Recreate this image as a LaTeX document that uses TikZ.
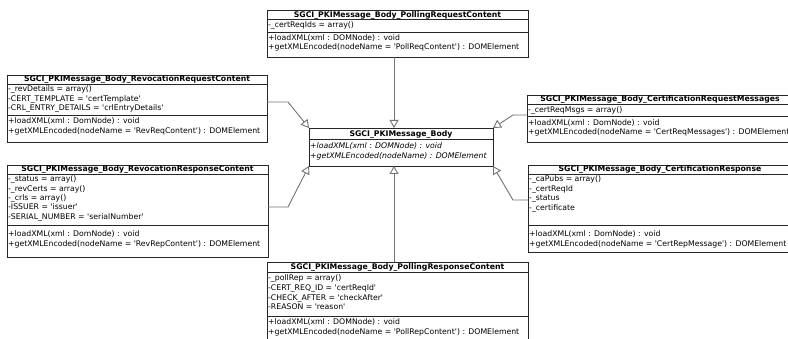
\documentclass[tikz,border=0pt]{standalone}
\usepackage{fontspec}
\setmainfont{DejaVu Sans}
\newfontfamily\umlf{DejaVu Sans}
\usetikzlibrary{arrows.meta}
\newcommand\umlfont{\umlf\fontsize{7.75}{9.6}\selectfont}
\newcommand\umlbold{\umlf\bfseries\fontsize{7.75}{9.6}\selectfont}
\newcommand\umlital{\umlf\itshape\fontsize{7.75}{9.6}\selectfont}
\begin{document}
\begin{tikzpicture}[x=1pt,y=-1pt,
  umlbox/.style={draw=black!85, line width=0.9pt, fill=white, inner sep=0pt, anchor=north west},
  sepline/.style={draw=black!85, line width=0.9pt},
  txt/.style={inner sep=0pt, anchor=base west, font=\umlfont},
  itxt/.style={inner sep=0pt, anchor=base west, font=\umlital},
  ttl/.style={inner sep=0pt, anchor=base, font=\umlbold},
  conn/.style={draw=black!55, line width=0.9pt, -{Triangle[open, length=8pt, width=9pt, fill=white]}}]
\clip (0,0) rectangle (788,339);
\fill[white] (0,0) rectangle (788,339);

% ---------- top box
\node[umlbox, minimum width=261pt, minimum height=47pt] (top) at (267,10) {};
\draw[sepline] (267,19) -- (528,19);
\draw[sepline] (267,32) -- (528,32);
\node[ttl] (topT) at (397.5,17.3) {SGCI\_PKIMessage\_Body\_PollingRequestContent};
\node[txt] (topA1) at (268,28) {-\_certReqIds = array()};
\node[txt] (topM1) at (268,40.5) {+loadXML(xml : DOMNode) : void};
\node[txt] (topM2) at (268,50) {+getXMLEncoded(nodeName = 'PollReqContent') : DOMElement};

% ---------- left box 1
\node[umlbox, minimum width=260pt, minimum height=67pt] (lone) at (7,75) {};
\draw[sepline] (7,84) -- (267,84);
\draw[sepline] (7,115) -- (267,115);
\node[ttl] (loneT) at (137,81.8) {SGCI\_PKIMessage\_Body\_RevocationRequestContent};
\node[txt] (loneA1) at (8,92) {-\_revDetails = array()};
\node[txt] (loneA2) at (8,101.7) {-CERT\_TEMPLATE = 'certTemplate'};
\node[txt] (loneA3) at (8,111) {-CRL\_ENTRY\_DETAILS = 'crlEntryDetails'};
\node[txt] (loneM1) at (8,123.5) {+loadXML(xml : DomNode) : void};
\node[txt] (loneM2) at (8,133.3) {+getXMLEncoded(nodeName = 'RevReqContent') : DOMElement};

% ---------- left box 2
\node[umlbox, minimum width=261pt, minimum height=92pt] (ltwo) at (7,165) {};
\draw[sepline] (7,174) -- (268,174);
\draw[sepline] (7,225) -- (268,225);
\node[ttl] (ltwoT) at (137.5,172) {SGCI\_PKIMessage\_Body\_RevocationResponseContent};
\node[txt] (ltwoA1) at (8,182) {-\_status = array()};
\node[txt] (ltwoA2) at (8,191.2) {-\_revCerts = array()};
\node[txt] (ltwoA3) at (8,200.5) {-\_crls = array()};
\node[txt] (ltwoA4) at (8,209.7) {-ISSUER = 'issuer'};
\node[txt] (ltwoA5) at (8,219.3) {-SERIAL\_NUMBER = 'serialNumber'};
\node[txt] (ltwoM1) at (8,236.8) {+loadXML(xml : DomNode) : void};
\node[txt] (ltwoM2) at (8,246.6) {+getXMLEncoded(nodeName = 'RevRepContent') : DOMElement};

% ---------- center box
\node[umlbox, minimum width=184pt, minimum height=38pt] (body) at (309,128) {};
\draw[sepline] (309,139) -- (493,139);
\node[ttl] (bodyT) at (401,136.7) {SGCI\_PKIMessage\_Body};
\node[itxt] (bodyM1) at (310,148.6) {+loadXML(xml : DOMNode) : void};
\node[itxt] (bodyM2) at (310,158.2) {+getXMLEncoded(nodeName) : DOMElement};

% ---------- right box 1
\node[umlbox, minimum width=273pt, minimum height=47pt] (rone) at (527,95) {};
\draw[sepline] (527,104) -- (800,104);
\draw[sepline] (527,116) -- (800,116);
\node[ttl] (roneT) at (660,102) {SGCI\_PKIMessage\_Body\_CertificationRequestMessages};
\node[txt] (roneA1) at (528,112.7) {-\_certReqMsgs = array()};
\node[txt] (roneM1) at (528,125.4) {+loadXML(xml : DomNode) : void};
\node[txt] (roneM2) at (528,134.4) {+getXMLEncoded(nodeName = 'CertReqMessages') : DOMElement};

% ---------- right box 2
\node[umlbox, minimum width=272pt, minimum height=87pt] (rtwo) at (528,165) {};
\draw[sepline] (528,174) -- (800,174);
\draw[sepline] (528,225) -- (800,225);
\node[ttl] (rtwoT) at (660,172) {SGCI\_PKIMessage\_Body\_CertificationResponse};
\node[txt] (rtwoA1) at (529,182) {-\_caPubs = array()};
\node[txt] (rtwoA2) at (529,191.3) {-\_certReqId};
\node[txt] (rtwoA3) at (529,200.8) {-\_status};
\node[txt] (rtwoA4) at (529,210.3) {-\_certificate};
\node[txt] (rtwoM1) at (529,236.8) {+loadXML(xml : DomNode) : void};
\node[txt] (rtwoM2) at (529,246.3) {+getXMLEncoded(nodeName = 'CertRepMessage') : DOMElement};

% ---------- bottom box
\node[umlbox, minimum width=261pt, minimum height=80pt] (bot) at (267,262) {};
\draw[sepline] (267,272) -- (528,272);
\draw[sepline] (267,316) -- (528,316);
\node[ttl] (botT) at (397.5,269.2) {SGCI\_PKIMessage\_Body\_PollingResponseContent};
\node[txt] (botA1) at (268,281) {-\_pollRep = array()};
\node[txt] (botA2) at (268,290.8) {-CERT\_REQ\_ID = 'certReqId'};
\node[txt] (botA3) at (268,300.4) {-CHECK\_AFTER = 'checkAfter'};
\node[txt] (botA4) at (268,309.6) {-REASON = 'reason'};
\node[txt] (botM1) at (268,324.4) {+loadXML(xml : DOMNode) : void};
\node[txt] (botM2) at (268,334.2) {+getXMLEncoded(nodeName = 'PollRepContent') : DOMElement};

% ---------- connector points
\coordinate (topOut) at (394,57);
\coordinate (bodyTopIn) at (394,128);
\coordinate (botOut) at (394,262);
\coordinate (bodyBotIn) at (394,166);
\coordinate (loneOut) at (267,102);
\coordinate (loneBend) at (288,102);
\coordinate (bodyNW) at (309,128);
\coordinate (ltwoOut) at (268,207);
\coordinate (ltwoBend) at (288,207);
\coordinate (bodySW) at (309,166);
\coordinate (roneOut) at (527,115);
\coordinate (roneBend) at (513,115);
\coordinate (bodyNE) at (493,128);
\coordinate (rtwoOut) at (528,200);
\coordinate (rtwoBend) at (513,200);
\coordinate (bodySE) at (493,166);

\draw[conn] (topOut) -- (bodyTopIn);
\draw[conn] (botOut) -- (bodyBotIn);
\draw[conn] (loneOut) -- (loneBend) -- (bodyNW);
\draw[conn] (ltwoOut) -- (ltwoBend) -- (bodySW);
\draw[conn] (roneOut) -- (roneBend) -- (bodyNE);
\draw[conn] (rtwoOut) -- (rtwoBend) -- (bodySE);
\end{tikzpicture}
\end{document}
